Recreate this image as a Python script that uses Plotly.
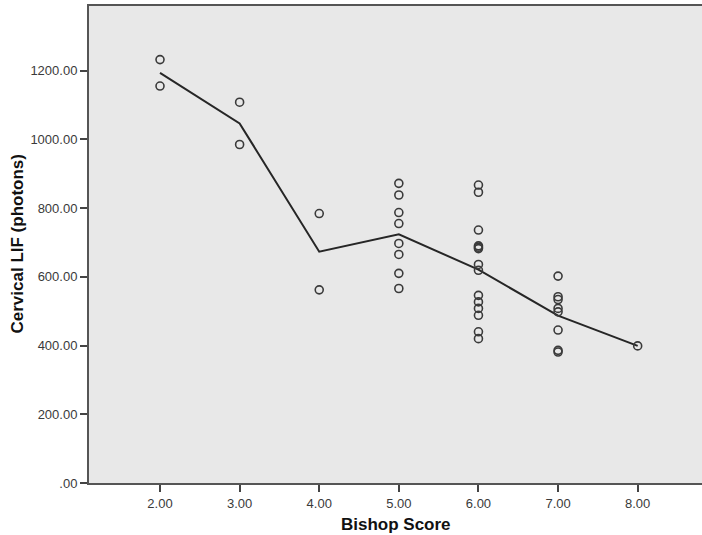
import pandas as pd
import plotly.graph_objects as go

# Bishop score for each subject and the cervical LIF reading (photons)
bishop_score = [2, 2,
                3, 3,
                4, 4,
                5, 5, 5, 5, 5, 5, 5, 5,
                6, 6, 6, 6, 6, 6, 6, 6, 6, 6, 6, 6, 6, 6,
                7, 7, 7, 7, 7, 7, 7, 7,
                8]
cervical_lif = [1232, 1155,
                1108, 985,
                784, 562,
                872, 838, 787, 755, 697, 665, 610, 566,
                867, 846, 736, 690, 686, 682, 636, 619, 546, 527, 508, 488, 440, 420,
                602, 542, 534, 508, 498, 445, 386, 381,
                399]

y_tick_values = [0, 200, 400, 600, 800, 1000, 1200]
y_tick_labels = [".00", "200.00", "400.00", "600.00", "800.00", "1000.00", "1200.00"]
x_tick_values = [2, 3, 4, 5, 6, 7, 8]
x_tick_labels = ["2.00", "3.00", "4.00", "5.00", "6.00", "7.00", "8.00"]

df = pd.DataFrame({"score": bishop_score, "lif": cervical_lif})
means = df.groupby("score", as_index=False)["lif"].mean()

fig = go.Figure()

# mean line across score groups
fig.add_trace(go.Scatter(
    x=means["score"], y=means["lif"], mode="lines",
    line=dict(color="#262626", width=2),
    hoverinfo="skip", showlegend=False,
))

# individual observations as open circles
fig.add_trace(go.Scatter(
    x=df["score"], y=df["lif"], mode="markers",
    marker=dict(symbol="circle", size=8, color="rgba(0,0,0,0)",
                line=dict(color="#3a3a3a", width=1.6)),
    showlegend=False,
))

tick_font = dict(family="Liberation Sans, Arial, sans-serif", size=13, color="#3a3a3a")
title_font = dict(family="Liberation Sans, Arial, sans-serif", size=17, color="#111111")

fig.update_layout(
    width=702, height=535,
    margin=dict(l=89, r=0, t=6, b=52),
    paper_bgcolor="white",
    plot_bgcolor="#e8e8e8",
    showlegend=False,
    xaxis=dict(
        range=[1.108, 8.808],
        tickvals=x_tick_values, ticktext=x_tick_labels,
        ticks="outside", ticklen=7, tickwidth=2, tickcolor="#444444",
        showline=True, linecolor="#555555", linewidth=2, mirror=True,
        showgrid=False, zeroline=False, tickfont=tick_font,
    ),
    yaxis=dict(
        range=[0, 1388],
        tickvals=y_tick_values, ticktext=y_tick_labels,
        ticks="outside", ticklen=7, tickwidth=2, tickcolor="#444444",
        showline=True, linecolor="#555555", linewidth=2,
        showgrid=False, zeroline=False, tickfont=tick_font,
    ),
    annotations=[
        dict(text="<b>Bishop Score</b>", xref="paper", yref="paper",
             x=0.5, y=0, xanchor="center", yanchor="middle", yshift=-41,
             showarrow=False, font=title_font),
        dict(text="<b>Cervical LIF (photons)</b>", xref="paper", yref="paper",
             x=0, y=0.5, xanchor="center", yanchor="middle", xshift=-72,
             textangle=-90, showarrow=False, font=title_font),
    ],
)

fig.write_html("out.html")
